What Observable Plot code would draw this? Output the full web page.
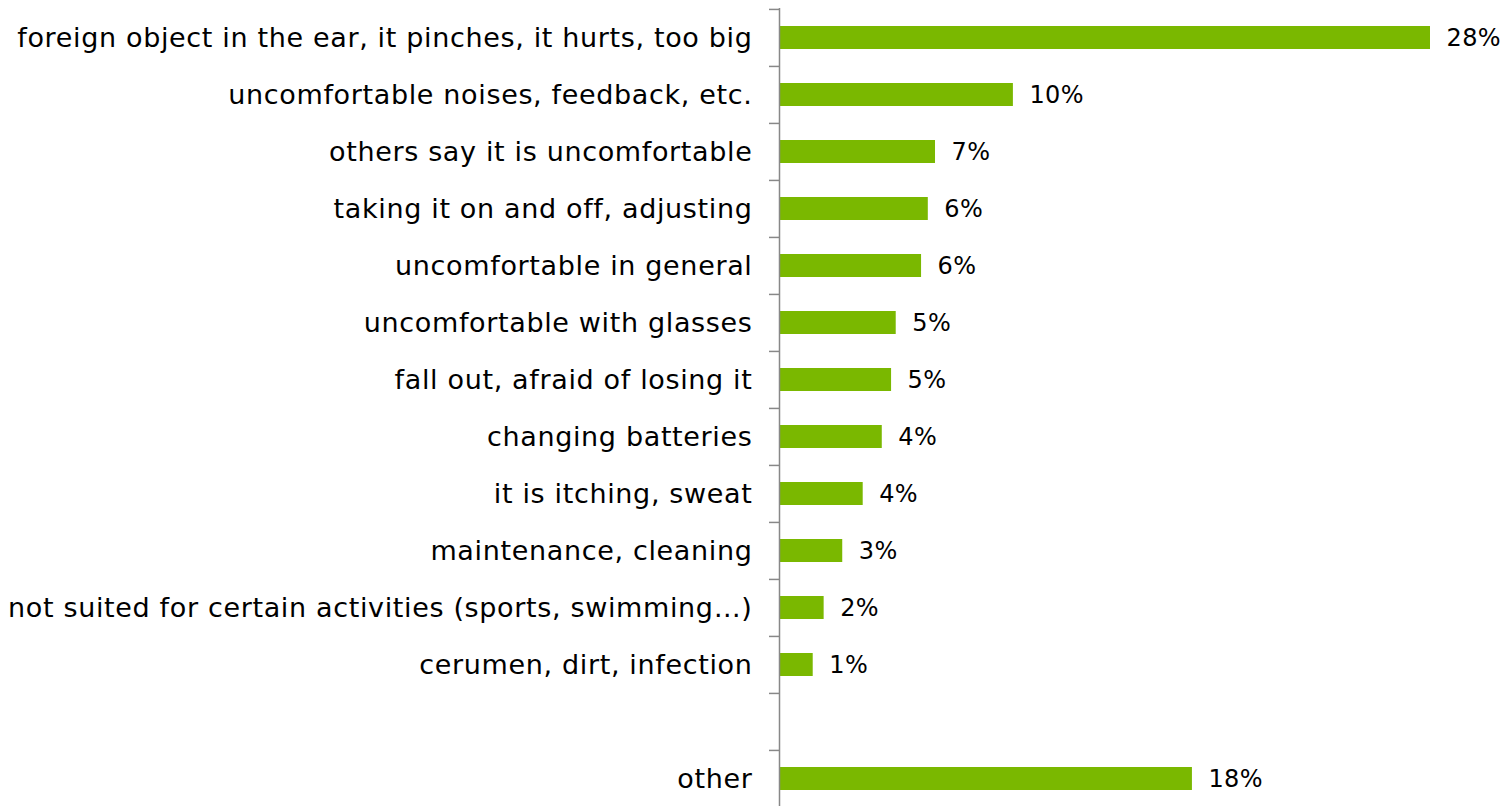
<!DOCTYPE html>
<html>
<head>
<meta charset="utf-8">
<script src="https://cdn.jsdelivr.net/npm/d3@7"></script>
<script src="https://cdn.jsdelivr.net/npm/@observablehq/plot@0.6"></script>
<style>
  html, body { margin: 0; padding: 0; background: #fff; overflow: hidden; }
  #chart svg { display: block; }
  .cat-axis text { letter-spacing: 0.65px; }
  .val-labels text { letter-spacing: 0.4px; }
</style>
</head>
<body>
<div id="chart"></div>
<script>
const categories = [
  "foreign object in the ear, it pinches, it hurts, too big",
  "uncomfortable noises, feedback, etc.",
  "others say it is uncomfortable",
  "taking it on and off, adjusting",
  "uncomfortable in general",
  "uncomfortable with glasses",
  "fall out, afraid of losing it",
  "changing batteries",
  "it is itching, sweat",
  "maintenance, cleaning",
  "not suited for certain activities (sports, swimming…)",
  "cerumen, dirt, infection",
  "",
  "other"
];
const values = [28, 10.06, 6.71, 6.40, 6.11, 5.02, 4.82, 4.42, 3.60, 2.72, 1.92, 1.45, null, 17.76];
const valueLabels = ["28%", "10%", "7%", "6%", "6%", "5%", "5%", "4%", "4%", "3%", "2%", "1%", null, "18%"];

const rows = categories
  .map((c, i) => ({category: c, value: values[i], label: valueLabels[i]}))
  .filter(d => d.value != null);

const width = 1510, height = 808, marginTop = 8, marginBottom = 0;
const step = (height - marginTop - marginBottom) / categories.length;

const chart = Plot.plot({
  width, height,
  marginLeft: 779, marginRight: 80, marginTop, marginBottom,
  style: {fontFamily: "'DejaVu Sans', Verdana, sans-serif", color: "#000", background: "#fff"},
  x: {domain: [0, 28], axis: null},
  y: {domain: categories, paddingInner: 0.6, paddingOuter: 0.3, label: null, axis: null},
  marks: [
    Plot.barX(rows, {x: "value", y: "category", fill: "#7ab800"}),
    Plot.text(rows, {x: "value", y: "category", text: "label", textAnchor: "start", dx: 16, fontSize: 24, fill: "#000", className: "val-labels"}),
    Plot.axisY({tickSize: 0, tickPadding: 27, fontSize: 27, label: null, fill: "#000", className: "cat-axis"}),
    Plot.axisY({tickSize: 10, tickFormat: () => "", dy: -step / 2, stroke: "#888", strokeWidth: 1.5, label: null}),
    Plot.ruleX([0], {stroke: "#888", strokeWidth: 1.5})
  ]
});
document.getElementById("chart").append(chart);
</script>
</body>
</html>
